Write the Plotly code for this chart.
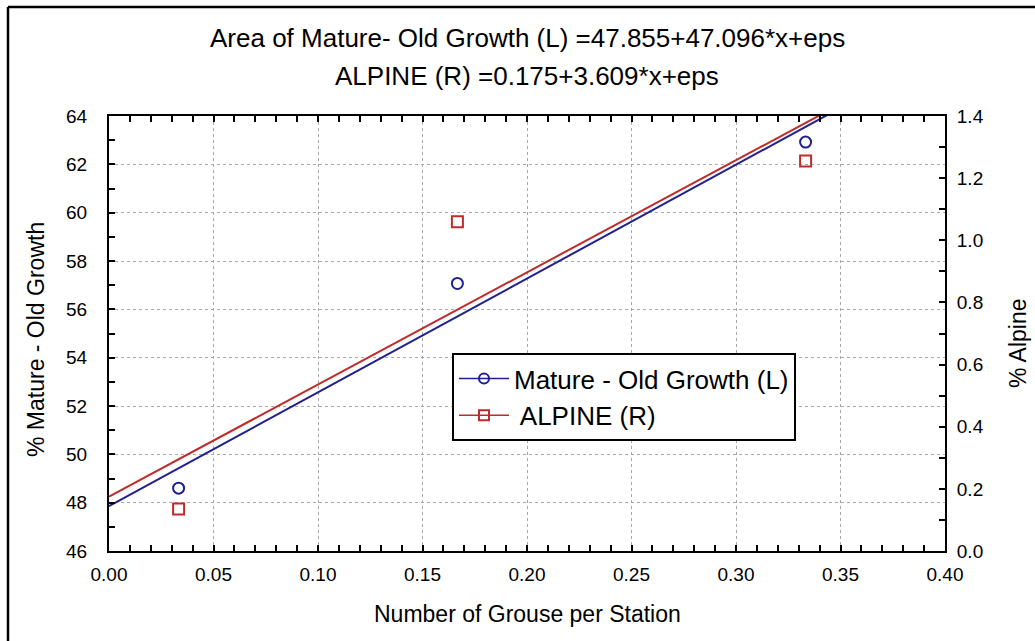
import plotly.graph_objects as go

# ---- data -------------------------------------------------------------
grouse_per_station = [0.0333, 0.1667, 0.3333]
mature_old_growth = [48.60, 57.07, 62.92]     # left axis (%)
alpine_pct = [0.135, 1.060, 1.255]            # right axis (%)

# fitted regressions quoted in the heading: intercept, slope
mature_fit = (47.855, 47.096)
alpine_fit = (0.175, 3.609)
fit_x = [0.0, 0.40]

x_tick_vals = [0.00, 0.05, 0.10, 0.15, 0.20, 0.25, 0.30, 0.35, 0.40]
y_left_ticks = [46, 48, 50, 52, 54, 56, 58, 60, 62, 64]
y_right_ticks = [0.0, 0.2, 0.4, 0.6, 0.8, 1.0, 1.2, 1.4]

title_1 = "Area of Mature- Old Growth (L) =47.855+47.096*x+eps"
title_2 = "ALPINE (R) =0.175+3.609*x+eps"

# ---- geometry ---------------------------------------------------------
W, H = 1035, 641
L, R, T, B = 109, 90, 116, 90
PW, PH = W - L - R, H - T - B


def px(x):
    return (x - L) / PW


def py(y):
    return (H - B - y) / PH


FONT = "Liberation Sans, Arial, sans-serif"
BLUE = "#20208f"
RED = "#c22a2a"

fig = go.Figure()

# regression lines
fig.add_trace(go.Scatter(
    x=fit_x, y=[mature_fit[0] + mature_fit[1] * v for v in fit_x],
    mode="lines", line=dict(color=BLUE, width=2), showlegend=False,
    hoverinfo="skip"))
fig.add_trace(go.Scatter(
    x=fit_x, y=[alpine_fit[0] + alpine_fit[1] * v for v in fit_x],
    yaxis="y2", mode="lines", line=dict(color=RED, width=2),
    showlegend=False, hoverinfo="skip"))

# observed points
fig.add_trace(go.Scatter(
    x=grouse_per_station, y=mature_old_growth, mode="markers",
    marker=dict(symbol="circle-open", size=11, color=BLUE,
                line=dict(width=2, color=BLUE)),
    showlegend=False))
fig.add_trace(go.Scatter(
    x=grouse_per_station, y=alpine_pct, yaxis="y2", mode="markers",
    marker=dict(symbol="square-open", size=11, color=RED,
                line=dict(width=2, color=RED)),
    showlegend=False))

# legend entries (line + symbol)
fig.add_trace(go.Scatter(
    x=[None], y=[None], mode="lines+markers", name="Mature - Old Growth (L)",
    line=dict(color=BLUE, width=1.5),
    marker=dict(symbol="circle-open", size=10, color=BLUE,
                line=dict(width=2, color=BLUE)),
    legendgroup="a"))
fig.add_trace(go.Scatter(
    x=[None], y=[None], mode="lines+markers", name=" ALPINE (R)",
    line=dict(color=RED, width=1.5),
    marker=dict(symbol="square-open", size=10, color=RED,
                line=dict(width=2, color=RED)),
    legendgroup="b"))

axis_common = dict(
    showline=True, linecolor="black", linewidth=2,
    ticks="inside", ticklen=6, tickwidth=1.5, tickcolor="black",
    zeroline=False, tickfont=dict(family=FONT, size=19, color="black"),
)

fig.update_layout(
    width=W, height=H,
    margin=dict(l=L, r=R, t=T, b=B, autoexpand=False),
    paper_bgcolor="white", plot_bgcolor="white",
    showlegend=True,
    legend=dict(
        x=px(452), y=py(353), xanchor="left", yanchor="top",
        bgcolor="white", bordercolor="black", borderwidth=2,
        font=dict(family=FONT, size=26, color="black"),
        traceorder="grouped", tracegroupgap=0, itemwidth=50,
    ),
    xaxis=dict(
        range=[0, 0.40], tickvals=x_tick_vals, tickformat=".2f",
        mirror="ticks", showgrid=True, gridcolor="#a8a8a8",
        griddash="dot", gridwidth=1,
        minor=dict(dtick=0.01, ticks="inside", ticklen=6,
                   tickcolor="black", tickwidth=1.5, showgrid=False),
        ticklabelstandoff=5,
        **axis_common,
    ),
    yaxis=dict(
        range=[46, 64], tickvals=y_left_ticks, showgrid=True,
        gridcolor="#a8a8a8", griddash="dot", gridwidth=1,
        minor=dict(dtick=1, ticks="inside", ticklen=6,
                   tickcolor="black", tickwidth=1.5, showgrid=False),
        ticklabelstandoff=16,
        **axis_common,
    ),
    yaxis2=dict(
        range=[0, 1.4], tickvals=y_right_ticks, tickformat=".1f",
        overlaying="y", side="right", showgrid=False,
        minor=dict(dtick=0.1, ticks="inside", ticklen=6,
                   tickcolor="black", tickwidth=1.5, showgrid=False),
        ticklabelstandoff=6,
        **axis_common,
    ),
    annotations=[
        dict(text=title_1, x=0.5, y=py(38), xref="paper", yref="paper",
             showarrow=False, xanchor="center", yanchor="middle",
             font=dict(family=FONT, size=26, color="black")),
        dict(text=title_2, x=0.5, y=py(76), xref="paper", yref="paper",
             showarrow=False, xanchor="center", yanchor="middle",
             font=dict(family=FONT, size=26, color="black")),
        dict(text="Number of Grouse per Station", x=0.5, y=py(614),
             xref="paper", yref="paper", showarrow=False,
             xanchor="center", yanchor="middle",
             font=dict(family=FONT, size=23, color="black")),
        dict(text="% Mature - Old Growth", x=px(36), y=py(340),
             xref="paper", yref="paper", showarrow=False, textangle=-90,
             xanchor="center", yanchor="middle",
             font=dict(family=FONT, size=23, color="black")),
        dict(text="% Alpine", x=px(1018), y=py(343),
             xref="paper", yref="paper", showarrow=False, textangle=-90,
             xanchor="center", yanchor="middle",
             font=dict(family=FONT, size=23, color="black")),
    ],
    shapes=[
        # outer frame (left and top edges)
        dict(type="line", xref="paper", yref="paper",
             x0=px(8), x1=px(8), y0=py(7), y1=py(H + 10),
             line=dict(color="black", width=2.5)),
        dict(type="line", xref="paper", yref="paper",
             x0=px(8), x1=px(W + 10), y0=py(7), y1=py(7),
             line=dict(color="black", width=2.5)),
    ],
)

fig.write_html("out.html")
